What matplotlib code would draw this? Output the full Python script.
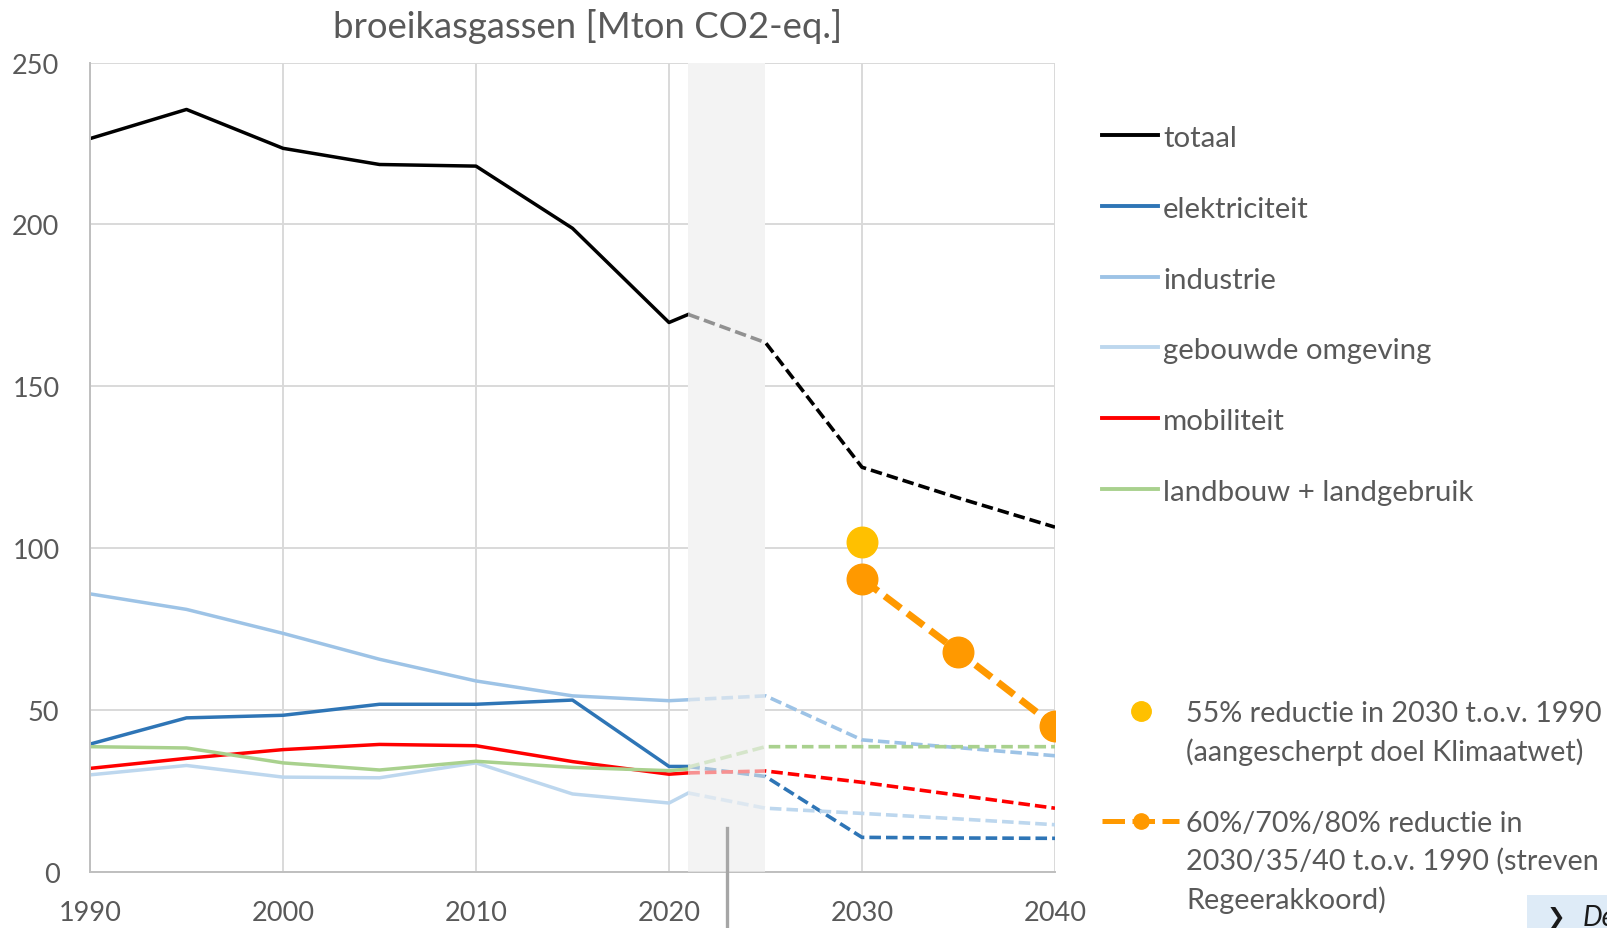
import matplotlib
matplotlib.use('Agg')
import matplotlib.pyplot as plt
from matplotlib.lines import Line2D
from matplotlib.patches import Rectangle

plt.rcParams['font.family'] = ['Lato', 'DejaVu Sans']

W, H = 1607, 929

# historische jaren en projectiejaren
jaren = [1990, 1995, 2000, 2005, 2010, 2015, 2020, 2021]
proj_jaren = [2021, 2025, 2030, 2035, 2040]

namen = ['totaal', 'elektriciteit', 'industrie', 'gebouwde omgeving',
         'mobiliteit', 'landbouw + landgebruik']
kleuren = ['#000000', '#2E75B6', '#9DC3E6', '#BDD7EE', '#FF0000', '#A9D18E']

totaal = [226.5, 235.5, 223.5, 218.5, 218.0, 198.8, 169.7, 172.2]
elektriciteit = [39.5, 47.6, 48.4, 51.8, 51.8, 53.1, 32.6, 32.6]
industrie = [85.9, 81.1, 73.7, 65.7, 59.0, 54.4, 52.9, 53.2]
gebouwd = [30.0, 32.9, 29.3, 29.1, 33.7, 24.1, 21.3, 24.4]
mobiliteit = [32.0, 35.1, 37.8, 39.4, 39.0, 34.1, 30.2, 30.6]
landbouw = [38.7, 38.3, 33.7, 31.5, 34.2, 32.3, 31.3, 31.8]

totaal_proj = [172.2, 163.5, 125.0, 115.5, 106.5]
elektriciteit_proj = [32.6, 29.5, 10.7, 10.5, 10.4]
industrie_proj = [53.2, 54.4, 40.8, 38.4, 35.9]
gebouwd_proj = [24.4, 19.7, 18.1, 16.4, 14.6]
mobiliteit_proj = [30.6, 31.2, 27.7, 23.7, 19.7]
landbouw_proj = [32.4, 38.7, 38.7, 38.7, 38.7]

historie = [totaal, elektriciteit, industrie, gebouwd, mobiliteit, landbouw]
projecties = [totaal_proj, elektriciteit_proj, industrie_proj, gebouwd_proj,
              mobiliteit_proj, landbouw_proj]

# doelen
doel_jaar = [2030]
doel_waarde = [102.0]
streven_jaren = [2030, 2035, 2040]
streven_waarden = [90.5, 68.0, 45.0]

doel_tekst = ['55% reductie in 2030 t.o.v. 1990', '(aangescherpt doel Klimaatwet)']
streven_tekst = ['60%/70%/80% reductie in', '2030/35/40 t.o.v. 1990 (streven',
                 'Regeerakkoord)']

GRIJS = '#595959'
BAND = '#f3f3f3'
GEEL = '#FFC000'
ORANJE = '#FF9900'


def fx(x):
    return x / W


def fy(y):
    return 1 - y / H


fig = plt.figure(figsize=(W / 100, H / 100), dpi=100)
ax = fig.add_axes([fx(90), fy(873), 965 / W, 809.5 / H])

# grijze band voor de overgangsjaren, onder en (half doorzichtig) boven de lijnen
ax.axvspan(2021, 2025, color=BAND, lw=0, zorder=1)
for hist, proj, kleur in zip(historie, projecties, kleuren):
    ax.plot(jaren, hist, color=kleur, lw=2.5, zorder=2)
    ax.plot(proj_jaren, proj, color=kleur, lw=2.6, ls=(0, (3.2, 1.4)), zorder=2)
ax.axvspan(2021, 2025, color=BAND, alpha=0.6, lw=0, zorder=3)

ax.plot(doel_jaar, doel_waarde, 'o', color=GEEL, ms=22, zorder=5)
ax.plot(streven_jaren, streven_waarden, color=ORANJE, lw=5, ls=(0, (2.9, 1.2)),
        marker='o', ms=22, zorder=6)

ax.axvline(2023, ymin=-0.08, ymax=0.054, color='#a6a6a6', lw=2.4,
           clip_on=False, zorder=4)

ax.set_xlim(1990, 2040)
ax.set_ylim(0, 250)
ax.set_xticks(range(1990, 2041, 10))
ax.set_yticks(range(0, 251, 50))
ax.grid(True, color='#d9d9d9', lw=1.4)
ax.set_axisbelow(True)
for s in ['top', 'right']:
    ax.spines[s].set_visible(False)
for s in ['left', 'bottom']:
    ax.spines[s].set_color('#bfbfbf')
    ax.spines[s].set_linewidth(1.4)
ax.tick_params(axis='both', length=0, labelsize=19.5, labelcolor=GRIJS)
ax.tick_params(axis='y', pad=22)
ax.tick_params(axis='x', pad=20.5)

r = fig.canvas.get_renderer()


def fit(teksten, breedte, index=0):
    w = teksten[index].get_window_extent(r).width
    fs = teksten[index].get_fontsize() * breedte / w
    for t in teksten:
        t.set_fontsize(fs)


titel = fig.text(fx(588), fy(26), 'broeikasgassen [Mton CO2-eq.]', ha='center',
                 va='center', color=GRIJS, fontsize=20)
fit([titel], 509)

# legenda met de sectoren
rijen = [136, 207, 278, 348, 419, 490]
teksten = []
for naam, kleur, y in zip(namen, kleuren, rijen):
    fig.add_artist(Line2D([fx(1102), fx(1158)], [fy(y), fy(y)],
                          transform=fig.transFigure, color=kleur, lw=2.8))
    teksten.append(fig.text(fx(1163), fy(y + 3), naam, ha='left', va='center',
                            color=GRIJS, fontsize=20))
fit(teksten, 311, index=5)

# legenda met de doelen
fig.add_artist(Line2D([fx(1141)], [fy(712)], transform=fig.transFigure,
                      marker='o', ms=14, color=GEEL, lw=0))
fig.add_artist(Line2D([fx(1102), fx(1141), fx(1179)], [fy(822)] * 3,
                      transform=fig.transFigure, color=ORANJE, lw=3.6,
                      ls=(0, (4.5, 1.5)), marker='o', ms=11, markevery=[1]))
teksten = []
for regel, y in zip(doel_tekst, [714, 752]):
    teksten.append(fig.text(fx(1186), fy(y), regel, ha='left', va='center',
                            color=GRIJS, fontsize=20))
for regel, y in zip(streven_tekst, [824, 861, 900]):
    teksten.append(fig.text(fx(1186), fy(y), regel, ha='left', va='center',
                            color=GRIJS, fontsize=20))
fit(teksten, 416)

# afgesneden kader rechtsonder
fig.add_artist(Rectangle((fx(1527), 0), 1 - fx(1527), fy(896),
                         transform=fig.transFigure, color='#DEEBF7', lw=0))
fig.text(fx(1547), fy(918), '❯', ha='left', va='center', color='#1a1a1a',
         fontsize=16, family=['DejaVu Sans'])
fig.text(fx(1583), fy(918), 'De', ha='left', va='center', color='#1a1a1a',
         fontsize=20, style='italic')

fig.savefig('out.png', dpi=100)
